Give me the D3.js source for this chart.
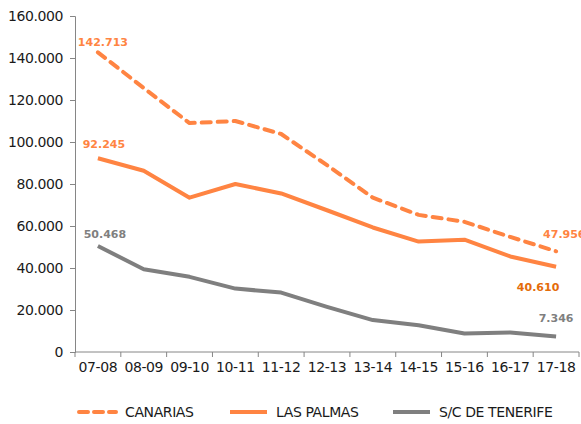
<!DOCTYPE html>
<html>
<head>
<meta charset="utf-8">
<script src="https://cdn.jsdelivr.net/npm/d3@7"></script>
<style>
  body { margin: 0; background: #fff; }
  svg { display: block; font-family: "DejaVu Sans", Verdana, sans-serif; }
</style>
</head>
<body>
<svg id="chart" width="581" height="424"></svg>
<script>
// courses
let cursos = ["07-08", "08-09", "09-10", "10-11", "11-12", "12-13", "13-14", "14-15", "15-16", "16-17", "17-18"];
let canarias = [142713, 125700, 109000, 110000, 103800, 89000, 73500, 65300, 62000, 54800, 47956];
let lasPalmas = [92245, 86300, 73500, 80000, 75500, 67500, 59300, 52600, 53500, 45500, 40610];
let tenerife = [50468, 39400, 35800, 30200, 28300, 21500, 15200, 12700, 8800, 9300, 7346];
let yTicks = [0, 20000, 40000, 60000, 80000, 100000, 120000, 140000, 160000];

let series = [
    {name: "CANARIAS", values: canarias, color: "#FF8442", dash: "9,7"},
    {name: "LAS PALMAS", values: lasPalmas, color: "#FF8442", dash: null},
    {name: "S/C DE TENERIFE", values: tenerife, color: "#7F7F7F", dash: null}
];

let svg = d3.select("#chart");
let fmt = d => d === 0 ? "0" : d3.format(",")(d).replace(/,/g, ".");

let x = d3.scaleBand().domain(cursos).range([75, 579]);
let y = d3.scaleLinear().domain([0, 160000]).range([352, 16]);

// y axis
let yAxis = svg.append("g").attr("transform", "translate(75,0)")
    .call(d3.axisLeft(y).tickValues(yTicks).tickFormat(fmt).tickSizeOuter(0).tickSize(5).tickPadding(7));
yAxis.select(".domain").attr("stroke", "#868686");
yAxis.selectAll(".tick line").attr("stroke", "#868686");
yAxis.selectAll("text").attr("font-size", 14).attr("letter-spacing", -0.4)
    .attr("fill", "#1a1a1a").attr("font-family", "DejaVu Sans");

// x axis with ticks on band edges
let xAxis = svg.append("g").attr("transform", "translate(0,352)")
    .call(d3.axisBottom(x).tickSize(0).tickPadding(10));
xAxis.select(".domain").attr("stroke", "#868686").attr("d", "M75,0H579");
xAxis.selectAll("text").attr("font-size", 14).attr("letter-spacing", -0.4)
    .attr("fill", "#1a1a1a").attr("font-family", "DejaVu Sans");
let edges = cursos.map(c => x(c)).concat([x.range()[1]]);
xAxis.selectAll(".edge").data(edges).enter().append("line")
    .attr("x1", d => d).attr("x2", d => d).attr("y1", 0).attr("y2", 5)
    .attr("stroke", "#868686");

let cx = c => x(c) + x.bandwidth() / 2;
let line = d3.line().x((d, i) => cx(cursos[i])).y(d => y(d));

series.forEach(s => {
    let p = svg.append("path").datum(s.values)
        .attr("d", line)
        .attr("fill", "none")
        .attr("stroke", s.color)
        .attr("stroke-width", 4)
        .attr("stroke-linejoin", "round");
    if (s.dash) p.attr("stroke-dasharray", s.dash).attr("stroke-linecap", "round");
});

// data labels
let last = cursos.length - 1;
let labels = [
    {v: canarias[0], i: 0, dx: 5, dy: -6, color: "#FF8442", anchor: "middle"},
    {v: lasPalmas[0], i: 0, dx: 6, dy: -10, color: "#FF8442", anchor: "middle"},
    {v: tenerife[0], i: 0, dx: 7, dy: -8, color: "#7F7F7F", anchor: "middle"},
    {v: canarias[last], i: last, dx: -13, dy: -13, color: "#FF8442", anchor: "start"},
    {v: lasPalmas[last], i: last, dx: -18, dy: 24, color: "#E46C0A", anchor: "middle"},
    {v: tenerife[last], i: last, dx: 0, dy: -15, color: "#7F7F7F", anchor: "middle"}
];
svg.selectAll(".dlabel").data(labels).enter().append("text")
    .attr("x", d => cx(cursos[d.i]) + d.dx)
    .attr("y", d => y(d.v) + d.dy)
    .attr("text-anchor", d => d.anchor)
    .attr("font-size", 11)
    .attr("font-weight", "bold")
    .attr("fill", d => d.color)
    .text(d => fmt(d.v));

// legend
let legendX = [77, 228, 391];
let legend = svg.selectAll(".leg").data(series).enter().append("g")
    .attr("transform", (d, i) => "translate(" + legendX[i] + ",412)");
legend.append("line")
    .attr("x1", 2).attr("x2", 39).attr("y1", 0).attr("y2", 0)
    .attr("stroke", d => d.color).attr("stroke-width", 4)
    .attr("stroke-dasharray", d => d.dash ? "9,6" : null)
    .attr("stroke-linecap", d => d.dash ? "round" : "butt");
legend.append("text")
    .attr("x", 48).attr("y", 5)
    .attr("font-size", 14).attr("letter-spacing", -0.4).attr("fill", "#1a1a1a")
    .text(d => d.name);
</script>
</body>
</html>
